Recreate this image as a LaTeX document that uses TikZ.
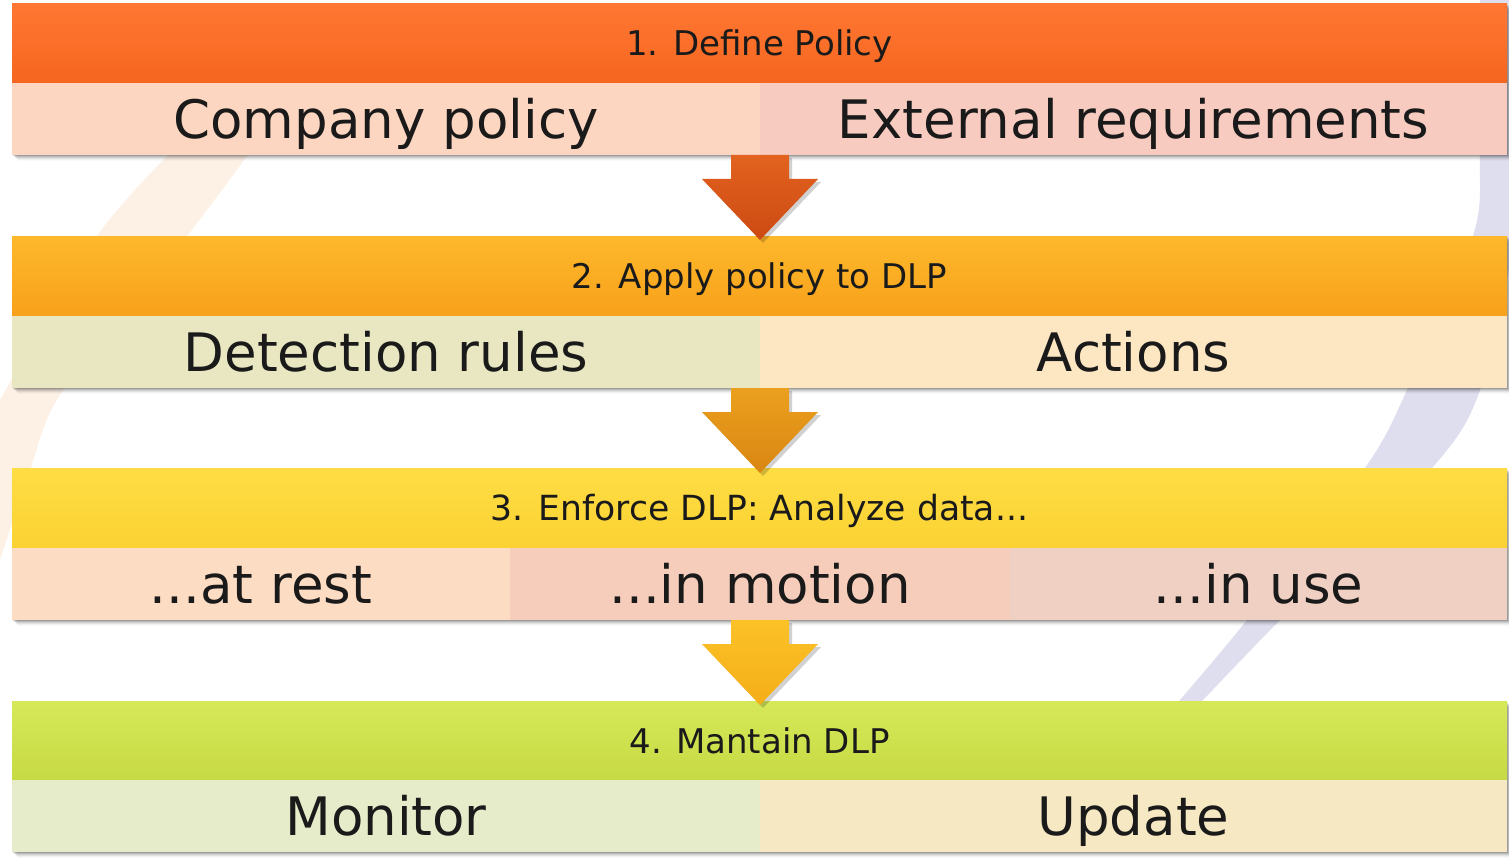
\documentclass[tikz,border=0pt]{standalone}
\usepackage{fontspec}
\setmainfont{DejaVu Sans}
\usetikzlibrary{calc}
\pgfdeclarelayer{bgzero}
\pgfdeclarelayer{bgone}
\pgfsetlayers{bgzero,bgone,main}
\definecolor{txt}{HTML}{1A1A1A}
\definecolor{peach}{HTML}{FDF1E6}
\definecolor{lav}{HTML}{DEDEEE}
\definecolor{hAt}{HTML}{FF7733}\definecolor{hAb}{HTML}{F5661F}
\definecolor{hBt}{HTML}{FDB82C}\definecolor{hBb}{HTML}{F8A11A}
\definecolor{hCt}{HTML}{FEDD44}\definecolor{hCb}{HTML}{FBD232}
\definecolor{hDt}{HTML}{D6E858}\definecolor{hDb}{HTML}{C6DA44}
\definecolor{cAl}{HTML}{FCD6C0}\definecolor{cAr}{HTML}{F8CBC0}
\definecolor{cBl}{HTML}{E9E7C1}\definecolor{cBr}{HTML}{FDE7C3}
\definecolor{cCl}{HTML}{FDDCC4}\definecolor{cCm}{HTML}{F6CDBA}\definecolor{cCr}{HTML}{EFD0C2}
\definecolor{cDl}{HTML}{E6ECC9}\definecolor{cDr}{HTML}{F7E8C4}
\definecolor{aAt}{HTML}{E2621F}\definecolor{aAb}{HTML}{CC4A12}
\definecolor{aBt}{HTML}{EBA01E}\definecolor{aBb}{HTML}{D98612}
\definecolor{aCt}{HTML}{FBC227}\definecolor{aCb}{HTML}{F5AE18}
\tikzset{
  hdr/.style={minimum width=1495pt, minimum height=79pt, inner sep=0pt, outer sep=0pt,
    text height=24.8pt, text depth=0pt, font=\fontsize{34}{40}\selectfont, text=txt},
  cell/.style={minimum height=72pt, inner sep=0pt, outer sep=0pt,
    text height=38.6pt, text depth=0pt, font=\fontsize{53}{60}\selectfont, text=txt},
  pics/downarrow/.style={code={
    \fill[black,opacity=0.18] (-26,3) -- ++(58,0) -- ++(0,24) -- ++(29,0) -- ++(-58,61) -- ++(-58,-61) -- ++(29,0) -- cycle;
    \shade[#1] (-29,0) -- ++(58,0) -- ++(0,24) -- ++(29,0) -- ++(-58,61) -- ++(-58,-61) -- ++(29,0) -- cycle;
  }}
}
\begin{document}
\begin{tikzpicture}[x=1pt,y=-1pt]
\useasboundingbox (0,0) rectangle (1509,858);
\begin{pgfonlayer}{bgzero}
  \fill[white] (0,0) rectangle (1509,858);
  \fill[peach] plot[smooth] coordinates {(255,145) (187,236) (63,390) (30,470) (0,560)}
     -- plot[smooth] coordinates {(0,400) (97,236) (178,145)} -- cycle;
  \fill[lav] plot[smooth] coordinates {(1520,0) (1520,155) (1515,236) (1480,390) (1432,468) (1280,620) (1203,700) (1192,712)}
     -- plot[smooth] coordinates {(1170,712) (1180,700) (1247,620) (1365,468) (1407,390) (1473,236) (1480,155) (1480,0)} -- cycle;
\end{pgfonlayer}

% band 1
\node[hdr, top color=hAt, bottom color=hAb] (h1) at (759.5,43.5) {1. Define Policy};
\node[cell, fill=cAl, minimum width=748pt] (c1a) at (386,119) {Company policy};
\node[cell, fill=cAr, minimum width=747pt] (c1b) at (1133.5,119) {External requirements};
% band 2
\node[hdr, top color=hBt, bottom color=hBb] (h2) at (759.5,276) {2. Apply policy to DLP};
\node[cell, fill=cBl, minimum width=748pt] (c2a) at (386,352) {Detection rules};
\node[cell, fill=cBr, minimum width=747pt] (c2b) at (1133.5,352) {Actions};
% band 3
\node[hdr, top color=hCt, bottom color=hCb, font=\fontsize{34.6}{40}\selectfont] (h3) at (759.5,508) {3. Enforce DLP: Analyze data...};
\node[cell, fill=cCl, minimum width=498pt] (c3a) at (261,584) {...at rest};
\node[cell, fill=cCm, minimum width=500pt] (c3b) at (760,584) {...in motion};
\node[cell, fill=cCr, minimum width=497pt] (c3c) at (1258.5,584) {...in use};
% band 4
\node[hdr, top color=hDt, bottom color=hDb] (h4) at (759.5,741) {4. Mantain DLP};
\node[cell, fill=cDl, minimum width=748pt] (c4a) at (386,816) {Monitor};
\node[cell, fill=cDr, minimum width=747pt] (c4b) at (1133.5,816) {Update};

% shadows
\begin{pgfonlayer}{bgone}
  \foreach \o/\op in {1/0.14,2/0.11,3/0.08,4/0.06,5/0.04,6/0.02}{
    \fill[black,opacity=\op] ($(h1.north west)+(\o,\o)$) rectangle ($(c1b.south east)+(\o,\o)$);
    \fill[black,opacity=\op] ($(h2.north west)+(\o,\o)$) rectangle ($(c2b.south east)+(\o,\o)$);
    \fill[black,opacity=\op] ($(h3.north west)+(\o,\o)$) rectangle ($(c3c.south east)+(\o,\o)$);
    \fill[black,opacity=\op] ($(h4.north west)+(\o,\o)$) rectangle ($(c4b.south east)+(\o,\o)$);
  }
\end{pgfonlayer}

% arrows
\coordinate (a1) at (c1a.south east);
\coordinate (a2) at (c2a.south east);
\coordinate (a3) at (c3b.south);
\pic at (a1) {downarrow={top color=aAt, bottom color=aAb}};
\pic at (a2) {downarrow={top color=aBt, bottom color=aBb}};
\pic at (a3) {downarrow={top color=aCt, bottom color=aCb}};
\end{tikzpicture}
\end{document}
